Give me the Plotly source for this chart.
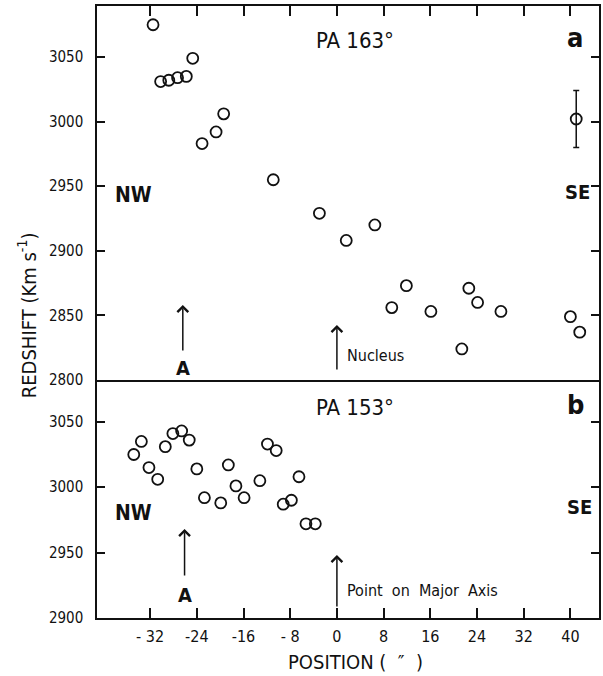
import plotly.graph_objects as go

# ---- data ----
# Panel a : PA 163 deg
pa163_pos = [-31.5, -30.2, -28.8, -27.3, -25.8, -24.7, -23.1, -20.7, -19.4, -10.9,
             -3.0, 1.6, 6.5, 9.4, 11.9, 16.1, 21.4, 22.6, 24.1, 28.1, 40.0, 41.6]
pa163_vel = [3075, 3031, 3032, 3034, 3035, 3049, 2983, 2992, 3006, 2955,
             2929, 2908, 2920, 2856, 2873, 2853, 2824, 2871, 2860, 2853, 2849, 2837]
# typical error bar sample
err_pos = [41.0]
err_vel = [3002]
err_size = [22]

# Panel b : PA 153 deg
pa153_pos = [-34.8, -33.5, -32.2, -30.7, -29.4, -28.1, -26.6, -25.3, -24.0, -22.7, -19.9,
             -18.6, -17.3, -15.9, -13.2, -11.9, -10.4, -9.2, -7.8, -6.5, -5.3, -3.7]
pa153_vel = [3025, 3035, 3015, 3006, 3031, 3041, 3043, 3036, 3014, 2992, 2988,
             3017, 3001, 2992, 3005, 3033, 3028, 2987, 2990, 3008, 2972, 2972]

x_ticks = [-32, -24, -16, -8, 0, 8, 16, 24, 32, 40]
x_ticktext = ["- 32", "-24", "-16", "- 8", "0", "8", "16", "24", "32", "40"]
ya_ticks = [2800, 2850, 2900, 2950, 3000, 3050]
yb_ticks = [2900, 2950, 3000, 3050]

FONT = "DejaVu Sans Condensed, DejaVu Sans, sans-serif"
BLACK = "#111111"

marker = dict(symbol="circle-open", size=11, color=BLACK, line=dict(width=1.8, color=BLACK))

fig = go.Figure()
fig.add_trace(go.Scatter(x=pa163_pos, y=pa163_vel, mode="markers", marker=marker,
                         xaxis="x2", yaxis="y2", showlegend=False))
fig.add_trace(go.Scatter(x=err_pos, y=err_vel, mode="markers", marker=marker,
                         error_y=dict(type="data", array=err_size, visible=True,
                                      color=BLACK, thickness=1.5, width=3),
                         xaxis="x2", yaxis="y2", showlegend=False))
fig.add_trace(go.Scatter(x=pa153_pos, y=pa153_vel, mode="markers", marker=marker,
                         xaxis="x", yaxis="y", showlegend=False))

axis_common = dict(showline=True, linecolor=BLACK, linewidth=1.5, ticks="inside",
                   tickcolor=BLACK, tickwidth=1.5, showgrid=False, zeroline=False)
xfont = dict(family=FONT, size=16, color=BLACK)
yfont = dict(family=FONT, size=15, color=BLACK)

XR = [-41.1, 44.9]
fig.update_layout(
    width=603, height=676,
    margin=dict(l=97, r=2, t=6, b=58),
    paper_bgcolor="white", plot_bgcolor="white",
    font=dict(family=FONT, color=BLACK),
    xaxis=dict(**axis_common, range=XR, anchor="y", domain=[0, 1], tickfont=xfont,
               tickvals=x_ticks, ticktext=x_ticktext, ticklen=10, mirror=False,
               ticklabelstandoff=3),
    xaxis2=dict(**axis_common, range=XR, anchor="y2", domain=[0, 1], side="top",
                tickvals=x_ticks, ticklen=10, showticklabels=False, mirror=True,
                matches="x"),
    yaxis=dict(**axis_common, range=[2900, 3082], domain=[0, 0.389], tickfont=yfont,
               tickvals=yb_ticks, ticklen=8, mirror="ticks", ticklabelstandoff=9),
    yaxis2=dict(**axis_common, range=[2800, 3089.5], domain=[0.389, 1], tickfont=yfont,
                tickvals=ya_ticks, ticklen=8, mirror="ticks", ticklabelstandoff=9),
)

ann = []
def txt(x, y, s, size, bold=False, xref="x", yref="y", xanchor="center"):
    ann.append(dict(x=x, y=y, xref=xref, yref=yref, text=("<b>%s</b>" % s) if bold else s,
                    showarrow=False, xanchor=xanchor, yanchor="middle",
                    font=dict(family=FONT, size=size, color=BLACK)))

def arrow(x, y_tip, y_tail, xref, yref):
    ann.append(dict(x=x, y=y_tip, ax=x, ay=y_tail, xref=xref, yref=yref,
                    axref=xref, ayref=yref, showarrow=True, arrowhead=4,
                    arrowsize=1.4, arrowwidth=1.5, arrowcolor=BLACK, text=""))

# panel a
txt(3.1, 3063, "PA 163°", 22, xref="x2", yref="y2")
txt(40.8, 3065, "a", 27, bold=True, xref="x2", yref="y2")
txt(-34.8, 2943, "NW", 21, bold=True, xref="x2", yref="y2")
txt(41.3, 2945.5, "SE", 20, bold=True, xref="x2", yref="y2")
arrow(-26.4, 2858, 2821.7, "x2", "y2")
txt(-26.4, 2809.5, "A", 20, bold=True, xref="x2", yref="y2")
arrow(0, 2842.6, 2807, "x2", "y2")
txt(1.4, 2818.6, "Nucleus", 16, xref="x2", yref="y2", xanchor="left")

# panel b
txt(3.1, 3060.7, "PA 153°", 22)
txt(40.8, 3063, "b", 27, bold=True)
txt(-34.8, 2980.3, "NW", 21, bold=True)
txt(41.6, 2985, "SE", 20, bold=True)
arrow(-26.1, 2968, 2931.4, "x", "y")
txt(-26.1, 2917.6, "A", 20, bold=True)
arrow(0, 2948.2, 2907.7, "x", "y")
txt(1.4, 2921.4, "Point  on  Major  Axis", 16, xanchor="left")

# axis titles
ann.append(dict(x=(27 - 97) / 504, y=(618 - 315) / 612, xref="paper", yref="paper",
                text="REDSHIFT (Km s<sup>-1</sup>)", textangle=-90, showarrow=False,
                xanchor="center", yanchor="middle",
                font=dict(family=FONT, size=20, color=BLACK)))
ann.append(dict(x=(357 - 97) / 504, y=(618 - 662) / 612, xref="paper", yref="paper",
                text="POSITION (  \u2033  )", showarrow=False,
                xanchor="center", yanchor="middle",
                font=dict(family=FONT, size=20, color=BLACK)))

fig.update_layout(annotations=ann)
fig.write_html("out.html", config={"displayModeBar": False},
               post_script="document.body.style.margin='0';document.body.style.overflow='hidden';")
